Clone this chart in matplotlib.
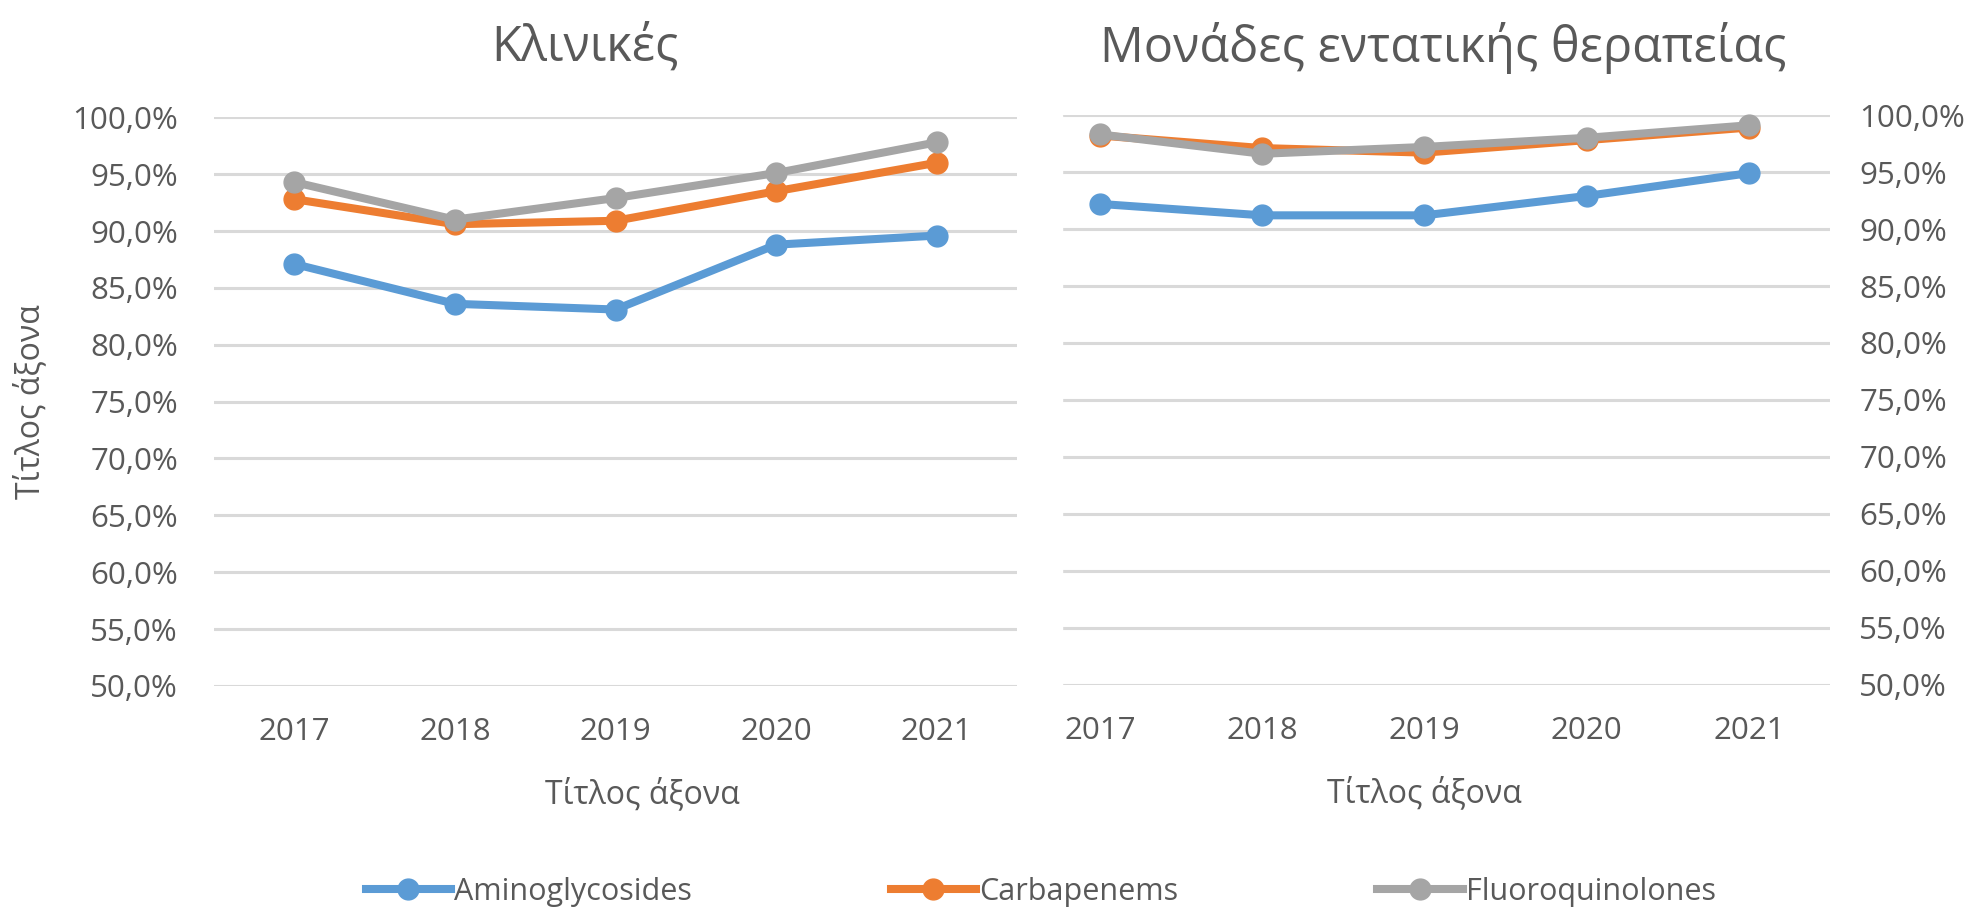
import matplotlib
matplotlib.use("Agg")
import matplotlib.pyplot as plt
from matplotlib.ticker import FuncFormatter, MultipleLocator
from matplotlib.patches import Rectangle

plt.rcParams['font.family'] = ['Open Sans', 'DejaVu Sans']

# data (% susceptibility)
years = ["2017", "2018", "2019", "2020", "2021"]
series_names = ["Aminoglycosides", "Carbapenems", "Fluoroquinolones"]
colors = ["#5B9BD5", "#ED7D31", "#A5A5A5"]

clinics_amino = [87.1, 83.6, 83.1, 88.8, 89.6]
clinics_carba = [92.8, 90.6, 90.9, 93.5, 96.0]
clinics_fluoro = [94.3, 91.0, 92.9, 95.1, 97.8]

icu_amino = [92.2, 91.2, 91.2, 92.9, 94.9]
icu_carba = [98.2, 97.1, 96.7, 97.8, 98.9]
icu_fluoro = [98.3, 96.6, 97.2, 98.0, 99.1]

titles = ["Κλινικές", "Μονάδες εντατικής θεραπείας"]
axis_title = "Τίτλος άξονα"

TXT = "#595959"
GRID = "#D9D9D9"

fig = plt.figure(figsize=(19.82, 9.10), dpi=100)
ax1 = fig.add_axes([0.1080, 0.2462, 0.4051, 0.6249])
ax2 = fig.add_axes([0.5141, 0.2473, 0.4092, 0.6263])

pct = FuncFormatter(lambda v, p: f"{v:.1f}%".replace(".", ","))

for ax, data in [(ax1, [clinics_amino, clinics_carba, clinics_fluoro]),
                 (ax2, [icu_amino, icu_carba, icu_fluoro])]:
    x = range(len(years))
    for vals, name, c in zip(data, series_names, colors):
        ax.plot(x, vals, color=c, lw=5.8, marker="o", ms=15,
                label=name, clip_on=False, zorder=3)
    ax.set_ylim(50, 100)
    ax.set_xlim(-0.5, len(years) - 0.5)
    ax.yaxis.set_major_locator(MultipleLocator(5))
    ax.yaxis.set_major_formatter(pct)
    ax.set_xticks(list(x))
    ax.set_xticklabels(years)
    ax.set_axisbelow(True)
    ax.grid(axis="y", color=GRID, lw=2.2)
    for s in ax.spines.values():
        s.set_visible(False)
    ax.tick_params(length=0, labelsize=22.5, labelcolor=TXT)
    ax.tick_params(axis="x", pad=22)
    ax.set_xlabel(axis_title, fontsize=23, color=TXT, labelpad=22)

ax1.tick_params(axis="y", pad=26)
ax1.set_ylabel(axis_title, fontsize=23, color=TXT, labelpad=18)
ax1.xaxis.label.set_x(0.533)

ax2.yaxis.tick_right()
ax2.tick_params(axis="y", pad=21)

# the left chart overlaps the start of the right chart's gridlines
ax2.add_patch(Rectangle((0, 0), 0.053, 1, transform=ax2.transAxes,
                        color="white", zorder=1, clip_on=False))

fig.text(0.295, 0.947, titles[0], fontsize=35, color=TXT, ha="center", va="center")
fig.text(0.728, 0.947, titles[1], fontsize=35, color=TXT, ha="center", va="center")

h, l = ax1.get_legend_handles_labels()
leg = fig.legend(h, l, loc="center", bbox_to_anchor=(0.525, 0.02), ncol=3,
                 frameon=False, fontsize=22, handlelength=2.8, handletextpad=0.1,
                 columnspacing=6.5, labelcolor=TXT)

fig.savefig("out.png", dpi=100, facecolor="white")
